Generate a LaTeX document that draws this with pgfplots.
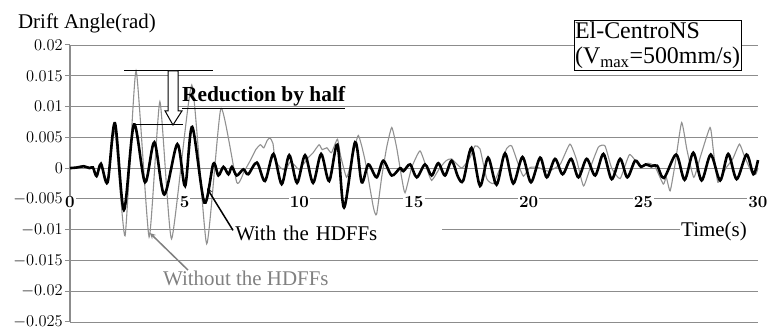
\RequirePackage{fix-cm}
\documentclass[border=0pt]{standalone}
\usepackage{fontspec}
\setmainfont{Liberation Serif}
\usepackage{pgfplots}
\pgfplotsset{compat=1.18}
\definecolor{gridc}{RGB}{140,140,140}
\definecolor{gline}{RGB}{145,145,145}
\definecolor{gtext}{RGB}{128,128,128}
\begin{document}
\begin{tikzpicture}
\begin{axis}[
 scale only axis, width=688bp, height=277bp,
 xmin=0, xmax=30, ymin=-0.025, ymax=0.02,
 axis x line=middle, axis y line=left,
 axis line style={-, draw=gridc, line width=1.2bp},
 hide obscured x ticks=false, hide obscured y ticks=false,
 xtick={0,5,10,15,20,25,30},
 ytick={-0.025,-0.02,-0.015,-0.01,-0.005,0,0.005,0.01,0.015,0.02},
 ymajorgrids, grid style={draw=gridc, line width=0.9bp},
 scaled y ticks=false,
 yticklabel style={/pgf/number format/fixed, /pgf/number format/precision=3, font=\fontsize{16.5}{16.5}\selectfont, inner xsep=2bp},
 xticklabel style={font=\fontsize{17}{17}\selectfont\boldmath, fill=white, inner sep=1bp, anchor=center, yshift=-29bp},
 xtick style={draw=none},
 ytick style={draw=gridc, line width=1bp}, tick align=outside, major tick length=5bp,
 clip=false,
]
\coordinate (ll) at (rel axis cs:0,0);
\coordinate (ur) at (rel axis cs:1,1);
\addplot[gline, line width=1.1bp, smooth, tension=0.3] coordinates {
(0,0) (0.6,0.0003) (1.0,0.0000) (1.16,-0.0012) (1.35,0.0006) (1.64,-0.0020) (1.96,0.0060)
(2.4,-0.0110) (2.88,0.0158) (3.45,-0.0112) (3.92,0.0108) (4.43,-0.0115) (5.31,0.0135)
(5.96,-0.0123) (6.58,0.0097) (7.27,-0.0023) (7.6,-0.0005) (7.9,0.0015) (8.1,0.0030)
(8.3,0.0038) (8.45,0.0033) (8.6,0.0045) (8.72,0.0049) (8.85,0.0040) (8.95,0.0012)
(9.2,0.0000) (9.4,-0.0003) (9.6,0.0010) (9.81,0.0004) (10.0,-0.0002) (10.39,0.0017)
(10.6,0.0025) (10.86,0.0038) (11.0,0.0030) (11.2,0.0033) (11.4,0.0025) (11.66,0.0047)
(11.8,0.0020) (12.06,-0.0015) (12.28,0.0012) (12.57,0.0053) (12.87,0.0012) (13.23,-0.0064)
(13.37,-0.0075) (13.59,-0.0015) (13.81,0.0034) (14.03,0.0066) (14.24,0.0034) (14.46,-0.0015)
(14.61,-0.0040) (14.9,0.0001) (15.26,0.0028) (15.55,0.0000) (15.77,-0.0020) (16.12,0.0000)
(16.4,0.0012) (16.64,0.0015) (17.08,0.0000) (17.44,0.0017) (17.66,0.0036) (17.88,0.0031)
(18.17,-0.0017) (18.46,-0.0025) (18.75,0.0000) (19.04,0.0032) (19.26,0.0036) (19.55,0.0006)
(19.77,-0.0013) (20.06,0.0001) (20.42,0.0001) (20.86,-0.0005) (21.37,0.0006) (21.8,0.0039)
(22.1,0.0012) (22.39,-0.0029) (22.68,0.0000) (23.04,0.0034) (23.33,0.0036) (23.62,0.0000)
(23.99,-0.0017) (24.4,0.0022) (24.86,0.0002) (25.2,0.0008) (25.5,0.0003) (25.87,-0.0026)
(26.0,-0.0015) (26.17,-0.0037) (26.4,0.0010) (26.67,0.0074) (26.9,0.0030) (27.2,-0.0015)
(27.5,0.0020) (27.91,0.0066) (28.05,0.0030) (28.25,-0.0023) (28.6,0.0000) (28.9,0.0015)
(29.19,0.0039) (29.4,0.0020) (29.7,-0.0005) (29.9,-0.0010) (30.0,0.0000)
};
\addplot[black, line width=2.6bp, smooth, tension=0.5] coordinates {
(0,0) (0.3,0.0001) (0.6,0.0003) (0.85,0.0000) (1.0,0.0001) (1.16,-0.0013) (1.35,0.0007)
(1.64,-0.0023) (1.96,0.0073) (2.35,-0.0068) (2.79,0.0071) (3.27,-0.0023) (3.68,0.0042)
(4.11,-0.0043) (4.68,0.0039) (5.02,-0.0029) (5.33,0.0067) (5.86,-0.0056) (6.25,0.0007)
(6.47,-0.0012) (6.69,0.0002) (6.91,-0.0010) (7.06,0.0002) (7.27,-0.0012) (7.56,-0.0002)
(7.77,-0.0010) (8.15,0.0009) (8.5,-0.0021) (8.87,0.0023) (9.23,-0.0026) (9.56,0.0021)
(9.9,-0.0024) (10.25,0.0021) (10.6,-0.0024) (10.95,0.0023) (11.3,-0.0021) (11.66,0.0038)
(11.95,-0.0064) (12.43,0.0042) (12.72,-0.0023) (13.01,0.0006) (13.37,-0.0015) (13.66,0.0012)
(14.03,-0.0012) (14.39,0.0000) (14.54,-0.0005) (14.83,0.0006) (15.12,-0.0015) (15.48,0.0006)
(15.77,-0.0012) (16.06,0.0008) (16.35,-0.0012) (16.64,0.0012) (16.93,-0.0015) (17.15,-0.0020)
(17.51,0.0033) (17.88,-0.0029) (18.23,0.0017) (18.6,-0.0027) (18.97,0.0024) (19.33,-0.0025)
(19.73,0.0018) (20.1,-0.0023) (20.5,0.0017) (20.79,-0.0015) (21.15,0.0015) (21.48,-0.0010)
(21.85,0.0015) (22.17,-0.0015) (22.53,0.0015) (22.9,-0.0012) (23.26,0.0023) (23.62,-0.0018)
(23.99,0.0015) (24.3,-0.0015) (24.64,0.0012) (24.9,0.0002) (25.1,0.0006) (25.35,0.0003)
(25.6,0.0004) (25.9,-0.0016) (26.43,0.0022) (26.8,-0.0019) (27.18,0.0025) (27.54,-0.0020)
(27.94,0.0022) (28.35,-0.0020) (28.7,0.0023) (29.07,-0.0018) (29.5,0.0022) (29.8,-0.0010)
(30.0,0.0013)
};
% annotations
\node[anchor=base west, inner sep=0pt, font=\fontsize{21}{21}\selectfont] at (axis cs:-2.27,0.02276) {Drift Angle(rad)};
\node[draw=black, line width=0.9bp, fill=white, align=left, inner xsep=1bp, inner ysep=2bp,
      font=\fontsize{24}{25}\selectfont] at (axis cs:25.62,0.01992) {El-CentroNS\\(V\textsubscript{max}=500mm/s)};
\draw[black, line width=1bp] (axis cs:2.355,0.01578) -- (axis cs:6.236,0.01578);
\draw[black, line width=1bp] (axis cs:2.835,0.00708) -- (axis cs:4.93,0.00708);
\draw[black, line width=1bp, fill=white] (axis cs:4.274,0.01578) -- (axis cs:4.274,0.0093)
  -- (axis cs:4.143,0.0093) -- (axis cs:4.49,0.0070) -- (axis cs:4.884,0.0093)
  -- (axis cs:4.71,0.0093) -- (axis cs:4.71,0.01578) -- cycle;
\node[anchor=base west, inner sep=0pt, font=\fontsize{21.5}{21.5}\selectfont\bfseries] at (axis cs:4.88,0.01074) {\underline{Reduction by half}};
\node[anchor=west, fill=white, inner sep=1bp, minimum width=209bp, text width=205bp,
      font=\fontsize{21}{21}\selectfont] at (axis cs:7.11,-0.01054) {With the HDFFs};
\draw[black, line width=1.5bp, -stealth] (axis cs:7.108,-0.01011) -- (axis cs:5.974,-0.00327);
\node[anchor=west, fill=white, inner sep=1bp, text width=80bp,
      font=\fontsize{21}{21}\selectfont] at (axis cs:26.6,-0.01035) {Time(s)};
\draw[gtext, line width=1.5bp, -stealth] (axis cs:5.146,-0.01657) -- (axis cs:3.489,-0.01056);
\node[anchor=west, inner sep=0pt, text=gtext, font=\fontsize{21}{21}\selectfont] at (axis cs:4.055,-0.01785) {Without the HDFFs};
\end{axis}
\pgfresetboundingbox
\path[use as bounding box] ([shift={(-70bp,-11bp)}]ll) rectangle ([shift={(9bp,45bp)}]ur);
\end{tikzpicture}
\end{document}
